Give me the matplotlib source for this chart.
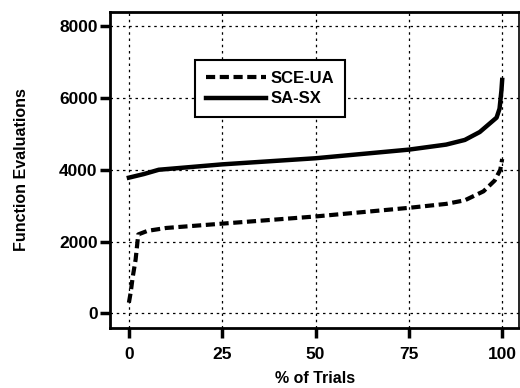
import matplotlib.pyplot as plt

plt.rcParams['font.family'] = ['Liberation Sans', 'DejaVu Sans']

# percent of trials
trials_sce = [0, 0.5, 1, 1.8, 2.5, 5, 10, 25, 50, 75, 85, 90, 95, 98, 99.5, 100]
sce_ua = [300, 600, 1000, 1500, 2200, 2300, 2380, 2500, 2700, 2940, 3050, 3150, 3400, 3700, 4000, 4300]

trials_sa = [0, 4, 8, 25, 50, 75, 85, 90, 94, 98.5, 99.3, 99.8, 100]
sa_sx = [3780, 3880, 4000, 4150, 4320, 4560, 4700, 4830, 5050, 5450, 5700, 6200, 6500]

fig = plt.figure(figsize=(5.2, 3.88), dpi=100)
ax = fig.add_axes([0.212, 0.155, 0.786, 0.815])

ax.plot(trials_sce, sce_ua, color='black', lw=3, ls=(0, (2.2, 1.1)), label='SCE-UA')
ax.plot(trials_sa, sa_sx, color='black', lw=3.2, label='SA-SX')

ax.set_xlim(-5, 104.5)
ax.set_ylim(-400, 8400)
ax.set_xticks([0, 25, 50, 75, 100])
ax.set_yticks([0, 2000, 4000, 6000, 8000])
ax.grid(True, color='black', ls=(0, (2, 3)), lw=0.9)

for s in ['left', 'bottom', 'top']:
    ax.spines[s].set_linewidth(2)
ax.spines['right'].set_linewidth(1.2)
ax.tick_params(direction='out', length=7, width=2.5, labelsize=12.5)
ax.tick_params(axis='x', pad=7)
ax.tick_params(axis='y', pad=2)
for lab in ax.get_xticklabels() + ax.get_yticklabels():
    lab.set_fontweight('bold')

ax.set_xlabel('% of Trials', fontsize=11.5, fontweight='bold', labelpad=6)
ax.set_ylabel('Function Evaluations', fontsize=11.5, fontweight='bold', labelpad=22)

leg = ax.legend(loc='upper left', bbox_to_anchor=(0.207, 0.848), frameon=True, fancybox=False,
                edgecolor='black', framealpha=1, handlelength=3.6, handletextpad=0.3,
                borderpad=0.65, labelspacing=0.35, borderaxespad=0,
                prop={'weight': 'bold', 'size': 12})
leg.get_frame().set_linewidth(1.5)

fig.savefig('out.png', dpi=100)
